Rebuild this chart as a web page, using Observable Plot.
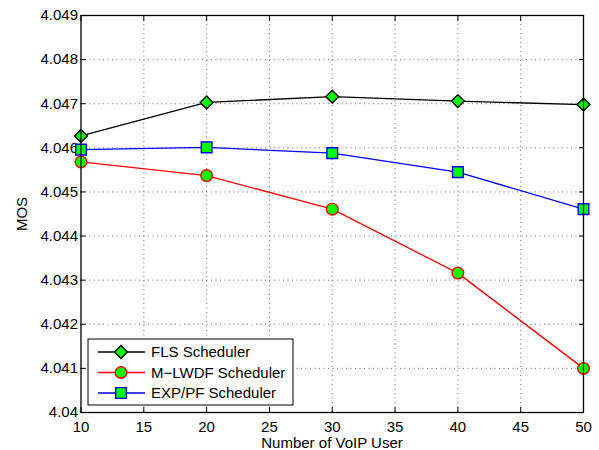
<!DOCTYPE html>
<html><head><meta charset="utf-8">
<script src="https://cdn.jsdelivr.net/npm/d3@7"></script>
<script src="https://cdn.jsdelivr.net/npm/@observablehq/plot@0.6"></script>
<style>body{margin:0;background:#fff;font-family:"Liberation Sans",Arial,sans-serif}</style>
</head><body><div id="chart"></div>
<script>
const users = [10, 20, 30, 40, 50];
const fls = [4.04627, 4.04703, 4.04716, 4.04706, 4.04698];
const mlwdf = [4.04568, 4.04537, 4.04461, 4.04316, 4.04100];
const exppf = [4.04596, 4.04601, 4.04588, 4.04545, 4.04461];
const seriesNames = ["FLS Scheduler", "M\u2212LWDF Scheduler", "EXP/PF Scheduler"];
const xTicks = [10, 15, 20, 25, 30, 35, 40, 45, 50];
const yTicks = [4.04, 4.041, 4.042, 4.043, 4.044, 4.045, 4.046, 4.047, 4.048, 4.049];
const yTickLabels = ["4.04", "4.041", "4.042", "4.043", "4.044", "4.045", "4.046", "4.047", "4.048", "4.049"];

const styles = [
  {stroke: "#000", symbol: "diamond2", r: 5.8},
  {stroke: "#ff0000", symbol: "circle", r: 5.8},
  {stroke: "#0000ff", symbol: "square2", r: 6.8}
];
const values = [fls, mlwdf, exppf];
const data = values.flatMap((vals, i) => vals.map((v, j) => ({x: users[j], y: v, s: i})));

const marks = [
  Plot.ruleX(xTicks.slice(1, -1), {stroke: "#444", strokeDasharray: "1,3.5", strokeWidth: 0.8}),
  Plot.ruleY(yTicks.slice(1, -1), {stroke: "#444", strokeDasharray: "1,3.5", strokeWidth: 0.8}),
  Plot.axisX({ticks: xTicks, tickSize: -5, tickPadding: 14, fontSize: 15, label: null, stroke: "#000"}),
  Plot.axisX({anchor: "top", ticks: xTicks, tickSize: -5, tickFormat: () => "", label: null}),
  Plot.axisY({ticks: yTicks, tickSize: -5, tickPadding: 8, fontSize: 15, label: null,
    tickFormat: (d) => yTickLabels[yTicks.findIndex(t => Math.abs(t - d) < 1e-9)]}),
  Plot.axisY({anchor: "right", ticks: yTicks, tickSize: -5, tickFormat: () => "", label: null}),
];
values.forEach((vals, i) => {
  const st = styles[i];
  const d = data.filter(p => p.s === i);
  marks.push(Plot.line(d, {x: "x", y: "y", stroke: st.stroke, strokeWidth: 1.3}));
  marks.push(Plot.dot(d, {x: "x", y: "y", symbol: st.symbol, r: st.r, fill: "#00ff00", stroke: st.stroke, strokeWidth: 1.4}));
});
marks.push(Plot.frame({stroke: "#000", strokeWidth: 1.3}));

const chart = Plot.plot({
  width: 599, height: 450,
  marginLeft: 80.5, marginRight: 16, marginTop: 15, marginBottom: 38,
  style: {fontFamily: "'Liberation Sans', Arial, sans-serif", fontSize: "15px", color: "#000", background: "#fff"},
  x: {domain: [10, 50]},
  y: {domain: [4.04, 4.049]},
  marks
});

const svg = d3.select(chart);
svg.append("text").attr("x", 332).attr("y", 448).attr("text-anchor", "middle")
  .attr("font-size", 15).attr("fill", "#000").text("Number of VoIP User");
svg.append("text").attr("transform", "translate(27,214) rotate(-90)").attr("text-anchor", "middle")
  .attr("font-size", 15).attr("fill", "#000").text("MOS");

// legend
const lg = svg.append("g");
lg.append("rect").attr("x", 88).attr("y", 339).attr("width", 205).attr("height", 66)
  .attr("fill", "#fff").attr("stroke", "#000").attr("stroke-width", 1);
seriesNames.forEach((name, i) => {
  const st = styles[i];
  const cy = 352 + i * 20.5;
  lg.append("line").attr("x1", 98).attr("x2", 145).attr("y1", cy).attr("y2", cy)
    .attr("stroke", st.stroke).attr("stroke-width", 1.3);
  lg.append("path").attr("transform", `translate(121,${cy})`)
    .attr("d", d3.symbol(i === 0 ? d3.symbolDiamond2 : i === 1 ? d3.symbolCircle : d3.symbolSquare2, Math.PI * st.r * st.r)())
    .attr("fill", "#00ff00").attr("stroke", st.stroke).attr("stroke-width", 1.4);
  lg.append("text").attr("x", 151).attr("y", cy).attr("dy", "0.36em").attr("text-anchor", "start")
    .attr("font-size", 15).attr("fill", "#000").text(name);
});
document.getElementById("chart").appendChild(chart);
</script></body></html>
